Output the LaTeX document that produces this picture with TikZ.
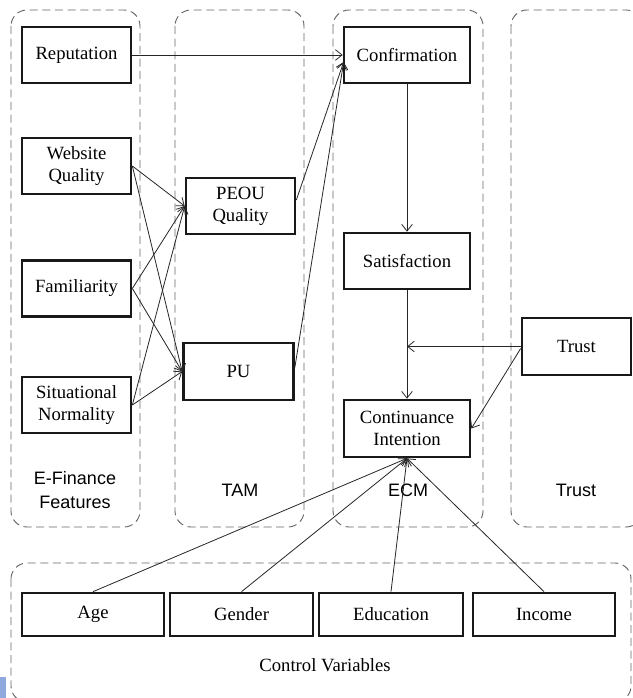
\documentclass[tikz,border=0pt]{standalone}
\usepackage{fontspec}
\setmainfont{Liberation Serif}
\setsansfont{Liberation Sans}
\usetikzlibrary{arrows.meta,calc}
\begin{document}
\begin{tikzpicture}[x=0.75pt,y=-0.75pt,
  grp/.style={draw=black!60,dashed,dash pattern=on 6pt off 3.5pt,line width=0.7pt,rounded corners=12pt},
  box/.style={draw=black!90,line width=2pt,fill=white,align=center,inner sep=0pt,
    font=\fontsize{14}{16.5}\selectfont},
  lbl/.style={font=\sffamily\fontsize{13.5}{18}\selectfont,align=center},
  arr/.style={draw=black!85,line width=0.6pt,-{Straight Barb[length=5pt,width=8pt]}}]
\useasboundingbox (0,0) rectangle (632,698);
\fill[white] (0,0) rectangle (632,698);
% groups
\draw[grp] (11,10) rectangle (140,527);
\draw[grp] (175,10) rectangle (304,527);
\draw[grp] (333,10) rectangle (483,527);
\draw[grp] (511,10) rectangle (642,527);
\draw[grp] (11,563) rectangle (631,702);
\fill[cyan!45!blue!45] (0,677) rectangle (6,698);
% group labels
\node[lbl] (lef) at (75,490) {E-Finance\\Features};
\node[lbl] (ltam) at (240,490) {TAM};
\node[lbl] (lecm) at (408,490) {ECM};
\node[lbl] (ltr) at (576,490) {Trust};
\node[font=\fontsize{14}{16.5}\selectfont] (lcv) at (325,665) {Control Variables};
% nodes
\node[box,minimum width=109*0.75pt,minimum height=56*0.75pt] (rep) at (76.5,55) {Reputation};
\node[box,minimum width=109*0.75pt,minimum height=56*0.75pt] (web) at (76.5,166) {Website\\Quality};
\node[box,minimum width=109*0.75pt,minimum height=56*0.75pt] (fam) at (76.5,288.5) {Familiarity};
\node[box,minimum width=109*0.75pt,minimum height=56*0.75pt] (sit) at (76.5,405) {Situational\\Normality};
\node[box,minimum width=109*0.75pt,minimum height=56*0.75pt] (peou) at (240.5,206) {PEOU\\Quality};
\node[box,minimum width=110*0.75pt,minimum height=57*0.75pt] (pu) at (238.5,371.5) {PU};
\node[box,minimum width=126*0.75pt,minimum height=56*0.75pt] (conf) at (407,55) {Confirmation};
\node[box,minimum width=126*0.75pt,minimum height=56*0.75pt] (sat) at (407,261) {Satisfaction};
\node[box,minimum width=126*0.75pt,minimum height=57*0.75pt] (ci) at (407,428.5) {Continuance\\Intention};
\node[box,minimum width=109*0.75pt,minimum height=57*0.75pt] (trust) at (576.5,346.5) {Trust};
\node[box,minimum width=142*0.75pt,minimum height=43*0.75pt] (age) at (93,614.5) {Age};
\node[box,minimum width=143*0.75pt,minimum height=43*0.75pt] (gen) at (241.5,614.5) {Gender};
\node[box,minimum width=144*0.75pt,minimum height=43*0.75pt] (edu) at (391,614.5) {Education};
\node[box,minimum width=142*0.75pt,minimum height=43*0.75pt] (inc) at (544,614.5) {Income};
% connectors
\draw[arr] (rep.east) -- (conf.west);
\draw[arr] (web.east) -- (peou.west);
\draw[arr] (web.east) -- (pu.west);
\draw[arr] (fam.east) -- (peou.west);
\draw[arr] (fam.east) -- (pu.west);
\draw[arr] (sit.east) -- (peou.west);
\draw[arr] (sit.east) -- (pu.west);
\draw[arr] ($(peou.east)+(0,-6)$) -- ($(conf.west)+(1,7)$);
\draw[arr] ($(pu.east)+(0,-4)$) -- ($(conf.west)+(1,7)$);
\draw[arr] (conf.south) -- (sat.north);
\draw[arr] (sat.south) -- (ci.north);
\draw[arr] (trust.west) -- (ci.north |- trust.west);
\draw[arr] ($(trust.west)+(0,2)$) -- (ci.east);
\draw[arr] (age.north) -- (ci.south);
\draw[arr] (gen.north) -- (ci.south);
\draw[arr] (edu.north) -- (ci.south);
\draw[arr] (inc.north) -- (ci.south);
\end{tikzpicture}
\end{document}
